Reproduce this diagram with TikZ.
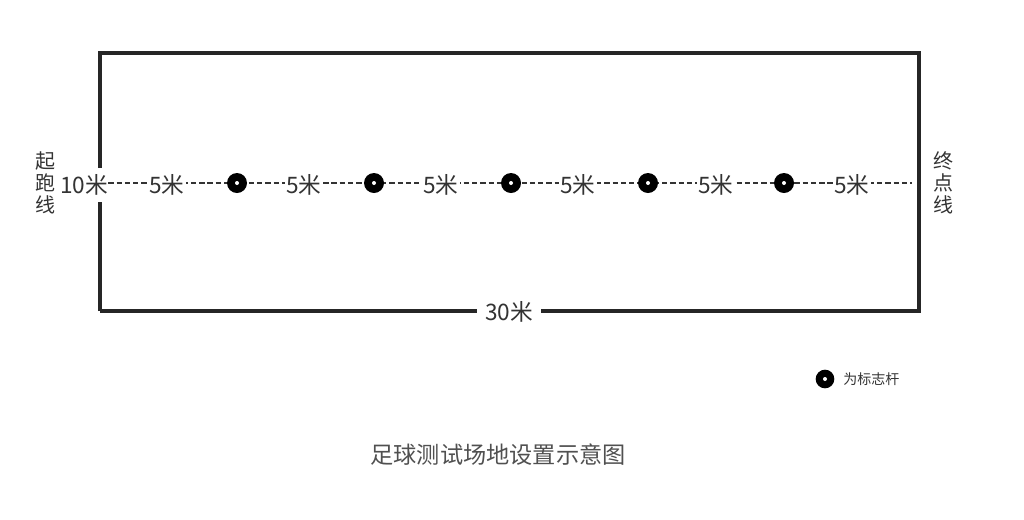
\documentclass[tikz,border=0pt]{standalone}
\usepackage{fontspec}
\setmainfont{Noto Sans CJK SC}
\usetikzlibrary{positioning}
\definecolor{inkgray}{HTML}{333333}
\definecolor{capgray}{HTML}{505050}
\tikzset{
  pole/.style={circle, fill=black, inner sep=0pt, minimum size=15pt},
  polehole/.style={circle, fill=white, inner sep=0pt, minimum size=3pt},
  dist/.style={fill=white, inner sep=1pt, text=inkgray, font=\fontsize{17}{17}\selectfont},
  side/.style={align=center, text=inkgray, font=\fontsize{15}{16.5}\selectfont},
  field/.style={line width=2.3pt, black!85},
  track/.style={line width=1pt, inkgray, dash pattern=on 4pt off 2.2pt}
}
\begin{document}
\begin{tikzpicture}[x=0.75pt, y=-0.75pt]
    \useasboundingbox (0,0) rectangle (1024,519);

    % Field corners
    \coordinate (nw) at (100,53);
    \coordinate (ne) at (919,53);
    \coordinate (se) at (919,311);
    \coordinate (sw) at (100,311);

    % Field
    \draw [field] (sw) -- (nw) -- (ne) -- (se) -- (sw);

    % Start and finish of the track
    \coordinate (start) at (100,183);
    \coordinate (finish) at (912,183);
    \draw [track] (start) -- (finish);

    % Poles
    \foreach \i/\x in {1/237, 2/374, 3/511, 4/648, 5/784} {
        \node [pole] (p\i) at (\x,183) {};
        \node [polehole] at (p\i) {};
    }

    % Distances
    \node [dist] (d1) at (167,185) {5米};
    \foreach \i/\x in {2/304, 3/441, 4/578, 5/716, 6/852} {
        \node [dist] (d\i) at (\x,185) {5米};
    }

    % Width and length
    \node [dist, inner xsep=0pt, inner ysep=5pt] (width) at (84,185) {10米};
    \node [dist, inner xsep=6pt] (length) at (509,312) {30米};

    % Start and finish lines
    \node [side] (startline) at (46,183) {起\\跑\\线};
    \node [side] (finishline) at (943,183) {终\\点\\线};

    % Legend
    \node [pole, minimum size=14pt] (legend) at (825,379) {};
    \node [polehole] at (legend) {};
    \node [right=3pt of legend, text=inkgray, font=\fontsize{10.5}{10.5}\selectfont] (legendtext) {为标志杆};

    % Caption
    \node [text=capgray, font=\fontsize{17.4}{17.4}\selectfont] (caption) at (498,455) {足球测试场地设置示意图};

\end{tikzpicture}
\end{document}
